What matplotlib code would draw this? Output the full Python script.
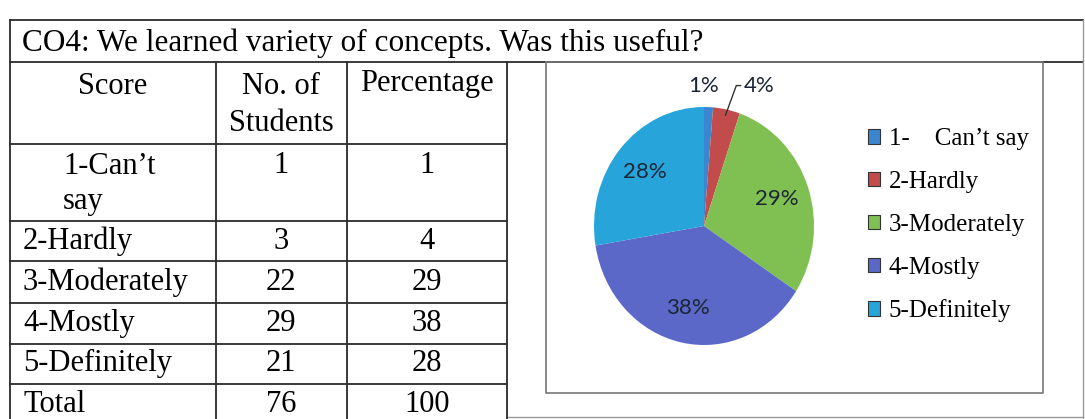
import matplotlib.pyplot as plt
from matplotlib.patches import Patch
import numpy as np

# Survey data (CO4)
title = "CO4: We learned variety of concepts. Was this useful?"
score_labels = ["1-Can\u2019t\nsay", "2-Hardly", "3-Moderately", "4-Mostly", "5-Definitely"]
legend_labels = ["1-    Can\u2019t say", "2-Hardly", "3-Moderately", "4-Mostly", "5-Definitely"]
num_students = [1, 3, 22, 29, 21]
percentages = [1, 4, 29, 38, 28]
total_students = 76
total_percent = 100

pie_colors = ["#3a86d1", "#c24b4b", "#80c052", "#5b68c8", "#27a5da"]

W, H = 1085, 419
fig = plt.figure(figsize=(W / 100, H / 100), dpi=100)
fig.patch.set_facecolor("white")

# background axes in pixel coordinates for the table frame
bg = fig.add_axes([0, 0, 1, 1])
bg.set_xlim(0, W)
bg.set_ylim(H, 0)
bg.axis("off")

line_kw = dict(color="#2b2b2b", lw=1.3)
serif = "Liberation Serif"
fs = 22

# outer frame and title row
bg.plot([10, 1083], [20, 20], **line_kw)
bg.plot([10, 1083], [62, 62], **line_kw)
bg.plot([10, 10], [20, H], **line_kw)
bg.plot([1083, 1083], [20, H], color="#999999", lw=1.0)
bg.plot([507, 1083], [417, 417], color="#999999", lw=1.0)
bg.text(22, 43, title, fontsize=22.5, family=serif, va="center", ha="left")

# table grid
col_x = [216, 347, 507]
for x in col_x:
    bg.plot([x, x], [62, H], **line_kw)
row_y = [144, 221, 261, 303, 344, 384]
for y in row_y:
    bg.plot([10, 507], [y, y], **line_kw)

# header
bg.text(113, 86, "Score", fontsize=fs, family=serif, ha="center", va="center")
bg.text(281, 86, "No. of", fontsize=fs, family=serif, ha="center", va="center")
bg.text(281, 123, "Students", fontsize=fs, family=serif, ha="center", va="center")
bg.text(427, 83, "Percentage", fontsize=fs, family=serif, ha="center", va="center")

# body rows
row_centers = [165, 241, 282, 323, 363]
for i, (lab, n, p) in enumerate(zip(score_labels, num_students, percentages)):
    yc = row_centers[i]
    if i == 0:
        bg.text(63, yc - 13, lab, fontsize=fs, family=serif, ha="left", va="top",
                linespacing=1.25)
    else:
        bg.text(23, yc, lab, fontsize=fs, family=serif, ha="left", va="center")
    bg.text(281, yc, str(n), fontsize=fs, family=serif, ha="center", va="center")
    bg.text(427, yc, str(p), fontsize=fs, family=serif, ha="center", va="center")

bg.text(23, 404, "Total", fontsize=fs, family=serif, ha="left", va="center")
bg.text(281, 404, str(total_students), fontsize=fs, family=serif, ha="center", va="center")
bg.text(427, 404, str(total_percent), fontsize=fs, family=serif, ha="center", va="center")

# chart box
bg.plot([546, 1043, 1043, 546, 546], [62, 62, 393, 393, 62], color="#777777", lw=1.2)

# pie chart
cx, cy, rx, ry = 704, 226, 110, 119
pax = fig.add_axes([(cx - rx) / W, (H - cy - ry) / H, 2 * rx / W, 2 * ry / H])
lbl = dict(family="Lato", fontsize=16, color="#1a2535")
wedges, texts, autotexts = pax.pie(
    num_students, colors=pie_colors, startangle=90, counterclock=False,
    autopct="%.0f%%", pctdistance=0.7, textprops=lbl,
)
pax.set_xlim(-1, 1)
pax.set_ylim(-1, 1)
pax.set_aspect("auto")

# small slices get labels outside
autotexts[0].set_position((0.0, 1.18))
autotexts[1].set_visible(False)
red = wedges[1]
mid = np.deg2rad((red.theta1 + red.theta2) / 2)
pax.annotate(f"{percentages[1]}%", xy=(0.95 * np.cos(mid), 0.95 * np.sin(mid)),
             xytext=(0.36, 1.18), ha="left", va="center", **lbl,
             arrowprops=dict(arrowstyle="-", color="#333333", lw=1.0,
                             connectionstyle="angle,angleA=0,angleB=70,rad=0",
                             shrinkA=0, shrinkB=0),
             annotation_clip=False)

handles = [Patch(facecolor=c, edgecolor="#333333", lw=0.8) for c in pie_colors]
fig.legend(handles, legend_labels, loc="upper left", bbox_to_anchor=(855 / W, 1 - 116 / H),
           frameon=False, prop=dict(family=serif, size=18), labelspacing=0.83,
           handlelength=0.5, handleheight=0.5, handletextpad=0.35, borderpad=0)

fig.savefig("out.png", dpi=100)
